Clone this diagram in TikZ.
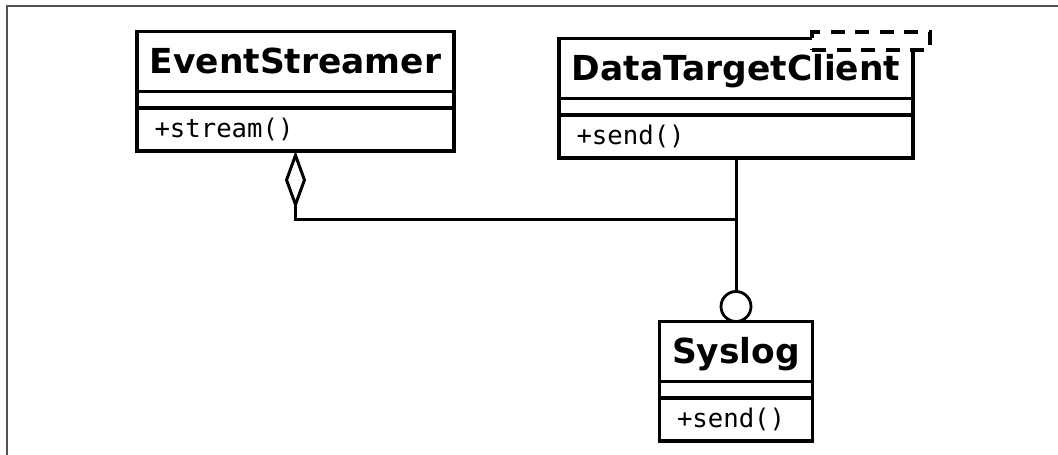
\documentclass[tikz,border=0pt]{standalone}
\usepackage{fontspec}
\usepackage{xcolor}
\usepackage{tikz}
\usetikzlibrary{arrows.meta}
\newfontfamily\umlsans{DejaVu Sans}
\newfontfamily\umlmono{DejaVu Sans Mono}
\definecolor{FrameGray}{RGB}{80,80,80}

\begin{document}
\begin{tikzpicture}[x=0.02cm, y=-0.02cm,
  umlbox/.style={draw, line width=1.8pt, outer sep=0pt, inner sep=0pt},
  classname/.style={umlbox, minimum width=#1, minimum height=1.2cm,
    text height=14pt, text depth=0pt,
    font=\umlsans\bfseries\fontsize{19.6}{19.6}\selectfont},
  classattr/.style={umlbox, minimum width=#1, minimum height=0.33cm},
  classops/.style={umlbox, text width=#1, inner xsep=0.35cm, minimum height=0.86cm,
    align=left, font=\umlmono\fontsize{14.6}{14.6}\selectfont},
  umlline/.style={line width=1.7pt}]
\useasboundingbox (0,0) rectangle (1058,455);

% Frame
\draw[FrameGray, line width=1.2pt] (7,455) |- (1058,6);

% EventStreamer
\node[classname=6.34cm] (es) at (295.5,61.5) {EventStreamer};
\node[classattr=6.34cm, anchor=north] (es-attr) at (es.south) {};
\node[classops=5.64cm, anchor=north] (es-ops) at (es-attr.south) {+stream()};

% DataTargetClient
\node[classname=7.08cm] (dtc) at (736,68.5) {DataTargetClient};
\node[classattr=7.08cm, anchor=north] (dtc-attr) at (dtc.south) {};
\node[classops=6.38cm, anchor=north] (dtc-ops) at (dtc-attr.south) {+send()};
\node[umlbox, fill=white, dash pattern=on 8pt off 6pt,
  minimum width=2.36cm, minimum height=0.36cm] (dtc-tpl) at (871,41) {};

% Syslog
\node[classname=3.06cm] (sys) at (736,351.5) {Syslog};
\node[classattr=3.06cm, anchor=north] (sys-attr) at (sys.south) {};
\node[classops=2.36cm, anchor=north] (sys-ops) at (sys-attr.south) {+send()};
\node[circle, draw, line width=1.6pt, minimum size=0.6cm, inner sep=0pt,
  outer sep=0pt, anchor=south] (sys-lolli) at (sys.north) {};

% Connectors
\path (dtc-ops.south) ++(0,62) coordinate (junc);
\draw[umlline] (dtc-ops.south) -- (sys-lolli.north);
\draw[umlline, {Diamond[open, length=33pt, width=12pt]}-] (es-ops.south) |- (junc);

\end{tikzpicture}
\end{document}
